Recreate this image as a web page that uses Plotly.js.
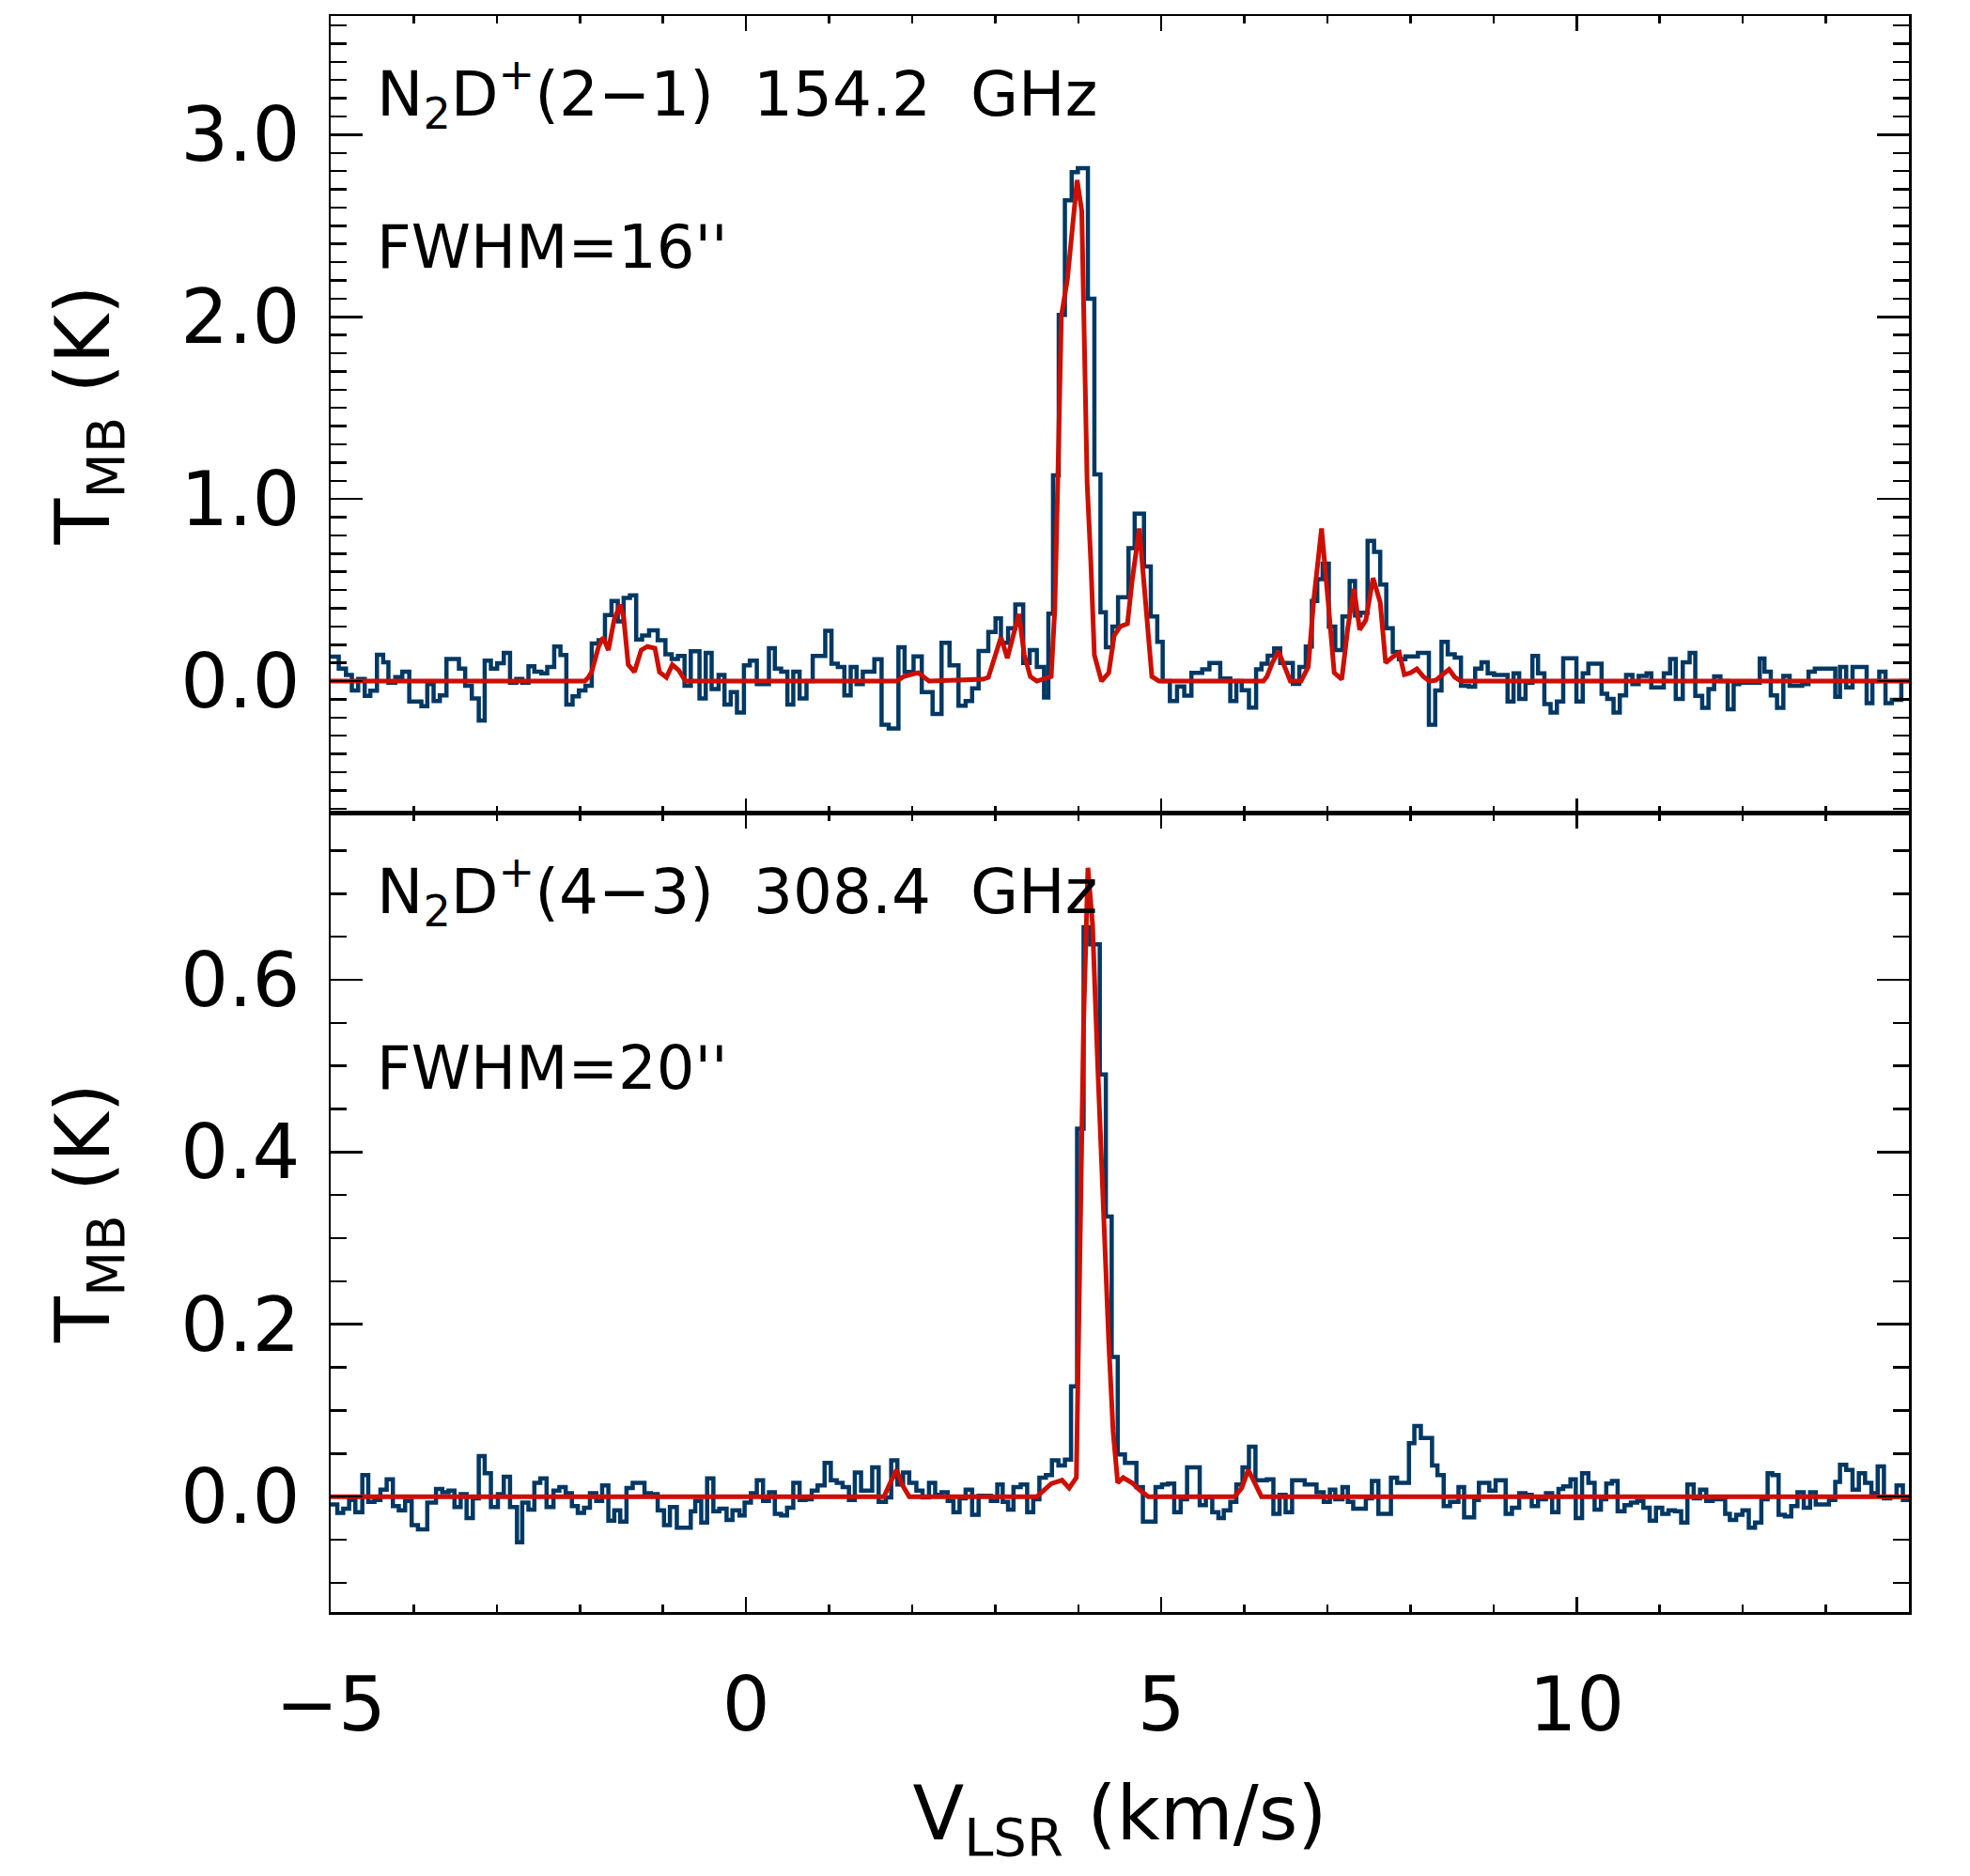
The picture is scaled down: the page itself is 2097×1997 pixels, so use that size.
<!DOCTYPE html>
<html>
<head>
<meta charset="utf-8">
<script src="https://cdn.plot.ly/plotly-3.0.1.min.js"></script>
<style>html,body{margin:0;padding:0;background:#fff;}</style>
</head>
<body>
<div id="chart" style="width:2097px;height:1997px;"></div>
<script>
// ---- N2D+(2-1) observed spectrum: step left edges (km/s) and T_MB (K)
const vTop = [-5.00,-4.903,-4.816,-4.745,-4.669,-4.590,-4.523,-4.443,-4.368,-4.305,-4.222,-4.138,-4.054,-3.908,-3.837,-3.761,-3.686,-3.606,-3.456,-3.381,-3.301,-3.217,-3.146,-3.071,-2.996,-2.916,-2.841,-2.765,-2.694,-2.619,-2.548,-2.464,-2.393,-2.309,-2.234,-2.163,-2.088,-2.012,-1.933,-1.857,-1.774,-1.698,-1.619,-1.544,-1.473,-1.397,-1.322,-1.251,-1.167,-1.063,-0.970,-0.895,-0.820,-0.740,-0.665,-0.560,-0.485,-0.414,-0.330,-0.259,-0.184,-0.109,-0.025,0.046,0.130,0.276,0.347,0.423,0.498,0.569,0.645,0.728,0.803,0.954,1.029,1.105,1.184,1.260,1.331,1.406,
1.545,1.632,1.718,1.835,1.909,2.017,2.116,2.246,2.354,2.450,2.558,2.644,2.722,2.800,2.917,3.004,3.069,3.155,3.242,3.337,3.415,3.501,3.588,3.640,3.696,3.765,3.839,3.921,3.995,4.116,4.194,4.267,4.332,4.410,4.479,4.605,4.679,4.791,4.873,4.951,5.016,5.103,5.189,5.276,5.362,5.492,5.579,5.709,5.830,5.903,5.968,6.055,6.141,6.206,6.280,6.358,6.431,6.583,6.661,6.739,6.812,6.877,6.942,7.016,7.094,7.180,7.267,7.332,7.396,7.483,7.561,7.635,7.708,7.786,7.860,7.938,8.089,
8.221,8.297,8.373,8.448,8.532,8.607,8.702,8.778,8.854,8.929,9.005,9.168,9.240,9.308,9.384,9.467,9.535,9.611,9.686,9.762,9.838,9.997,10.073,10.141,10.300,10.368,10.444,10.519,10.595,10.671,10.747,10.841,10.898,11.049,11.125,11.193,11.277,11.360,11.428,11.511,11.587,11.655,11.731,11.818,11.890,11.958,12.204,12.261,12.337,12.412,12.488,12.564,12.715,12.791,12.867,13.113,13.170,13.245,13.321,13.491,13.560,13.643,13.718,13.794,13.908];
const tTop = [0.134,0.069,0.034,-0.052,0.012,-0.081,-0.053,0.145,0.103,-0.009,0.022,0.052,-0.112,-0.138,-0.017,-0.109,-0.078,0.121,0.069,-0.026,-0.095,-0.216,0.112,0.069,0.098,0.155,-0.009,0.012,-0.009,0.081,0.052,0.043,0.078,0.19,0.143,-0.129,-0.083,-0.052,-0.026,0.207,0.224,0.362,0.44,0.328,0.457,0.471,0.228,0.25,0.279,0.224,0.147,0.121,0.138,-0.026,0.164,-0.095,0.155,-0.043,0.034,-0.129,-0.06,-0.172,0.086,0.112,-0.017,0.181,0.069,0.052,-0.129,0.052,-0.095,0.0,0.138,0.276,0.095,0.078,-0.078,0.078,-0.017,0.052,
0.12,-0.24,-0.26,0.186,0.05,0.135,-0.06,-0.18,0.21,0.087,-0.135,-0.11,-0.04,0.165,0.27,0.345,0.21,0.29,0.42,0.10,0.17,0.077,-0.09,0.37,1.13,2.01,2.64,2.795,2.816,2.10,1.135,0.378,0.186,0.30,0.46,0.73,0.92,0.63,0.355,0.215,0.0,-0.11,-0.03,-0.08,0.045,0.065,0.10,0.015,-0.11,0.0,-0.05,-0.145,0.065,0.095,0.14,0.18,0.10,-0.015,0.077,0.19,0.44,0.56,0.645,0.30,0.17,0.355,0.55,0.36,0.375,0.77,0.71,0.53,0.29,0.16,0.12,0.135,0.155,
-0.24,-0.052,0.216,0.147,0.129,-0.026,-0.031,0.069,0.103,0.043,0.034,-0.112,0.043,-0.098,-0.009,0.138,0.043,-0.126,-0.172,-0.112,0.125,-0.112,0.043,0.095,-0.069,-0.098,-0.172,-0.078,0.034,-0.017,0.029,0.043,-0.034,0.043,0.121,-0.098,0.103,0.155,-0.081,-0.147,-0.043,0.026,0.0,-0.155,-0.017,-0.009,0.124,0.052,-0.078,-0.147,0.029,-0.026,-0.017,0.052,0.069,-0.086,0.078,-0.034,0.078,-0.121,0.0,0.052,-0.121,-0.103,0.0];

// ---- N2D+(2-1) hyperfine model fit
const vFitTop = [-5.0,-1.941,-1.899,-1.858,-1.774,-1.720,-1.657,-1.586,-1.515,-1.473,-1.418,-1.343,-1.263,-1.188,-1.096,-1.042,-0.958,-0.887,-0.811,-0.728,1.813,1.900,2.073,2.203,2.852,2.917,3.069,3.146,3.285,3.350,3.423,3.501,3.674,3.718,3.761,3.796,3.869,3.926,3.986,4.042,4.073,4.107,4.151,4.194,4.280,4.367,4.432,4.505,4.592,4.648,4.735,4.778,4.821,4.886,4.973,6.228,6.271,6.336,6.410,6.488,6.553,6.682,6.769,6.834,6.929,7.007,7.081,7.172,7.245,7.319,7.388,7.462,7.548,7.635,7.700,7.786,7.864,7.925,8.002,8.076,8.154,8.229,8.305,8.380,8.464,8.532,8.607,14.0];
const tFitTop = [0,0,0.02,0.05,0.19,0.24,0.17,0.34,0.42,0.35,0.09,0.05,0.17,0.19,0.18,0.05,0.02,0.09,0.06,0,0,0.025,0.046,0,0.01,0.02,0.24,0.126,0.368,0.144,0.025,0,0.025,0.40,1.255,2.003,2.206,2.484,2.751,2.581,1.725,1.084,0.656,0.143,0,0.046,0.25,0.30,0.315,0.55,0.838,0.614,0.335,0.025,0,0,0.025,0.10,0.165,0.079,0,0,0.079,0.442,0.838,0.442,0.046,0.01,0.292,0.506,0.282,0.335,0.566,0.432,0.10,0.133,0.155,0.036,0.046,0.067,0.025,0,0.005,0.034,0.064,0.022,0,0];

// ---- N2D+(4-3) observed spectrum
const vBot = [-5.0,-4.920,-4.849,-4.778,-4.703,-4.619,-4.548,-4.473,-4.401,-4.326,-4.251,-4.180,-4.104,-4.025,-3.949,-3.837,-3.732,-3.657,-3.581,-3.510,-3.435,-3.364,-3.289,-3.217,-3.146,-3.071,-2.987,-2.916,-2.841,-2.757,-2.694,-2.619,-2.548,-2.477,-2.401,-2.318,-2.247,-2.171,-2.096,-2.025,-1.950,-1.879,-1.803,-1.732,-1.657,-1.586,-1.514,-1.439,-1.364,-1.293,-1.222,-1.146,-1.063,-0.987,-0.916,-0.833,-0.665,-0.611,-0.539,-0.468,-0.393,-0.322,-0.234,-0.163,-0.079,-0.017,0.059,0.130,0.205,0.276,0.347,0.423,0.494,0.569,0.645,0.716,0.791,0.862,0.946,1.021,1.092,1.163,1.239,1.310,1.385,
1.519,1.597,1.684,1.748,1.822,1.891,1.965,2.051,2.125,2.203,2.277,2.354,2.428,2.497,2.571,2.644,2.722,2.800,2.947,3.025,3.090,3.155,3.220,3.307,3.385,3.458,3.532,3.610,3.683,3.761,3.839,3.913,3.986,4.064,4.142,4.259,4.332,4.402,4.475,4.562,4.700,4.778,4.930,5.008,5.081,5.155,5.233,5.310,5.462,5.536,5.613,5.687,5.752,5.830,5.903,5.977,6.055,6.133,6.271,6.349,6.423,6.496,6.574,6.726,6.868,6.955,7.029,7.094,7.180,7.245,7.310,7.462,7.535,7.613,7.764,7.838,7.981,8.046,8.124,
8.259,8.324,8.399,8.475,8.577,8.645,8.766,8.823,8.948,9.024,9.145,9.221,9.308,9.384,9.459,9.535,9.630,9.705,9.781,9.838,9.925,9.989,10.065,10.141,10.216,10.292,10.356,10.425,10.493,10.576,10.652,10.728,10.803,10.879,10.955,11.030,11.106,11.182,11.258,11.333,11.409,11.485,11.560,11.636,11.788,11.844,11.920,11.996,12.072,12.147,12.223,12.299,12.356,12.431,12.507,12.583,12.658,12.734,12.810,12.878,13.037,13.113,13.170,13.245,13.321,13.397,13.472,13.548,13.624,13.699,13.775,13.851,13.927];
const tBot = [-0.009,-0.019,-0.014,-0.004,-0.018,0.025,-0.006,-0.004,0.008,0.02,-0.011,-0.016,-0.005,-0.033,-0.038,-0.007,0.009,0.005,0.007,-0.012,0.003,-0.025,-0.002,0.047,0.027,-0.012,0.003,0.023,-0.012,-0.053,-0.007,-0.015,0.016,0.021,-0.012,0.007,0.011,0.004,-0.011,-0.019,-0.013,0.004,-0.005,0.013,-0.028,-0.016,-0.029,0.01,0.016,0.016,0.004,0.003,-0.016,-0.033,-0.012,-0.036,-0.017,-0.005,-0.03,0.021,-0.017,-0.014,-0.027,-0.016,-0.022,-0.007,0.004,0.019,-0.005,0.005,-0.02,-0.022,-0.013,0.016,-0.004,-0.003,0.007,0.013,0.039,0.019,0.016,0.011,-0.004,0.028,0.007,
0.034,-0.006,-0.001,0.042,0.014,0.028,0.016,0.007,-0.001,0.016,0.002,0.005,-0.005,-0.018,-0.002,0.008,-0.021,0.001,-0.005,0.014,-0.006,-0.015,0.011,0.014,-0.018,-0.003,0.022,0.025,0.042,0.036,0.043,0.128,0.427,0.661,0.641,0.49,0.325,0.162,0.049,0.039,0.011,-0.029,0.011,0.014,0.015,-0.018,-0.003,0.034,-0.010,-0.001,-0.018,-0.025,-0.016,-0.006,0.014,0.034,0.058,0.019,0.02,-0.020,0.002,-0.018,0.019,0.014,0.005,-0.006,0.008,-0.003,0.011,-0.006,-0.014,-0.002,0.018,-0.020,0.022,0.016,0.062,0.082,0.068,
0.036,0.025,-0.011,-0.006,0.011,-0.024,-0.004,0.016,0.007,0.019,-0.020,-0.013,0.004,0.002,-0.011,-0.003,0.004,-0.018,0.009,0.012,0.020,-0.025,0.027,0.016,-0.015,-0.003,0.015,0.018,-0.017,-0.010,-0.007,-0.005,-0.013,-0.028,-0.013,-0.020,-0.016,-0.017,-0.030,0.014,-0.002,0.008,-0.005,-0.003,-0.020,-0.027,-0.021,-0.016,-0.036,-0.030,-0.003,0.027,0.025,-0.021,-0.023,-0.011,0.005,-0.013,0.005,-0.009,-0.004,0.017,0.037,0.031,0.008,0.027,0.016,0.004,0.035,-0.002,0.0,0.013,-0.004];

// ---- N2D+(4-3) model fit
const vFitBot = [-5.0,1.662,1.727,1.813,1.878,1.965,3.501,3.588,3.674,3.804,3.891,3.977,4.021,4.064,4.116,4.172,4.237,4.302,4.367,4.419,4.475,4.540,4.648,4.735,4.843,5.882,5.968,6.046,6.120,6.206,14.0];
const tFitBot = [0,0,0.014,0.031,0.014,0,0,0.008,0.015,0.019,0.010,0.022,0.265,0.55,0.73,0.664,0.493,0.327,0.179,0.076,0.016,0.022,0.016,0.008,0,0,0.01,0.031,0.016,0,0];

const vEnd = 14.0;
const labelsTop = ['N<sub>2</sub>D<sup>+</sup>(2\u22121)\u00a0\u00a0154.2\u00a0\u00a0GHz', "FWHM=16''"];
const labelsBot = ['N<sub>2</sub>D<sup>+</sup>(4\u22123)\u00a0\u00a0308.4\u00a0\u00a0GHz', "FWHM=20''"];

const BLUE = '#003864', RED = '#cc0f00';
const FONT = 'DejaVu Sans';

function stepTrace(v, t, xa, ya) {
  return {x: v.concat([vEnd]), y: t.concat([t[t.length-1]]), xaxis: xa, yaxis: ya,
    type: 'scatter', mode: 'lines', line: {shape: 'hv', color: BLUE, width: 4.5}, hoverinfo: 'skip'};
}
function fitTrace(v, t, xa, ya) {
  return {x: v, y: t, xaxis: xa, yaxis: ya, type: 'scatter', mode: 'lines',
    line: {color: RED, width: 5}, hoverinfo: 'skip'};
}

const data = [
  stepTrace(vTop, tTop, 'x2', 'y'),
  fitTrace(vFitTop, tFitTop, 'x2', 'y'),
  stepTrace(vBot, tBot, 'x', 'y2'),
  fitTrace(vFitBot, tFitBot, 'x', 'y2')
];

const axCommon = {showline: true, linecolor: '#000', linewidth: 2.5, mirror: 'ticks',
  ticks: 'inside', tickcolor: '#000', tickwidth: 2.5, showgrid: false, zeroline: false,
  tickfont: {family: FONT, size: 80, color: '#000'}};

const SPLIT = 0.5003;
const layout = {
  width: 2097, height: 1997,
  margin: {l: 352, r: 65, t: 17, b: 281},
  paper_bgcolor: '#fff', plot_bgcolor: '#fff',
  showlegend: false,
  font: {family: FONT, color: '#000'},
  xaxis: Object.assign({}, axCommon, {
    domain: [0, 1], anchor: 'y2', range: [-5, 14], tick0: 0, dtick: 5, ticklen: 16,
    minor: {dtick: 1, ticklen: 8, tickwidth: 2.5, tickcolor: '#000', ticks: 'inside'},
    ticklabelstandoff: 27,
    title: {text: 'V<sub>LSR</sub> (km/s)', font: {family: FONT, size: 80, color: '#000'}, standoff: 43}
  }),
  xaxis2: Object.assign({}, axCommon, {
    domain: [0, 1], anchor: 'y', matches: 'x', range: [-5, 14], tick0: 0, dtick: 5, ticklen: 16,
    minor: {dtick: 1, ticklen: 8, tickwidth: 2.5, tickcolor: '#000', ticks: 'inside'},
    showticklabels: false
  }),
  yaxis: Object.assign({}, axCommon, {
    domain: [SPLIT, 1], anchor: 'x2', range: [-0.727, 3.652], tick0: 0, dtick: 1, tickformat: '.1f', ticklen: 34,
    minor: {dtick: 0.1, ticklen: 17, tickwidth: 2.5, tickcolor: '#000', ticks: 'inside'},
    ticklabelstandoff: 14,
    title: {text: 'T<sub>MB</sub>\u00a0(K)', font: {family: FONT, size: 80, color: '#000'}, standoff: 50}
  }),
  yaxis2: Object.assign({}, axCommon, {
    domain: [0, SPLIT], anchor: 'x', range: [-0.134, 0.793], tick0: 0, dtick: 0.2, tickformat: '.1f', ticklen: 34,
    minor: {dtick: 0.05, ticklen: 17, tickwidth: 2.5, tickcolor: '#000', ticks: 'inside'},
    ticklabelstandoff: 14,
    title: {text: 'T<sub>MB</sub>\u00a0(K)', font: {family: FONT, size: 80, color: '#000'}, standoff: 50}
  }),
  annotations: [
    {text: labelsTop[0], xref: 'paper', yref: 'paper', x: 0.028, y: 0.951, xanchor: 'left', yanchor: 'middle', showarrow: false, font: {family: FONT, size: 66, color: '#000'}},
    {text: labelsTop[1], xref: 'paper', yref: 'paper', x: 0.028, y: 0.855, xanchor: 'left', yanchor: 'middle', showarrow: false, font: {family: FONT, size: 64, color: '#000'}},
    {text: labelsBot[0], xref: 'paper', yref: 'paper', x: 0.028, y: 0.4514, xanchor: 'left', yanchor: 'middle', showarrow: false, font: {family: FONT, size: 66, color: '#000'}},
    {text: labelsBot[1], xref: 'paper', yref: 'paper', x: 0.028, y: 0.3408, xanchor: 'left', yanchor: 'middle', showarrow: false, font: {family: FONT, size: 64, color: '#000'}}
  ]
};

Plotly.newPlot('chart', data, layout, {staticPlot: true, displayModeBar: false});
</script>
</body>
</html>
